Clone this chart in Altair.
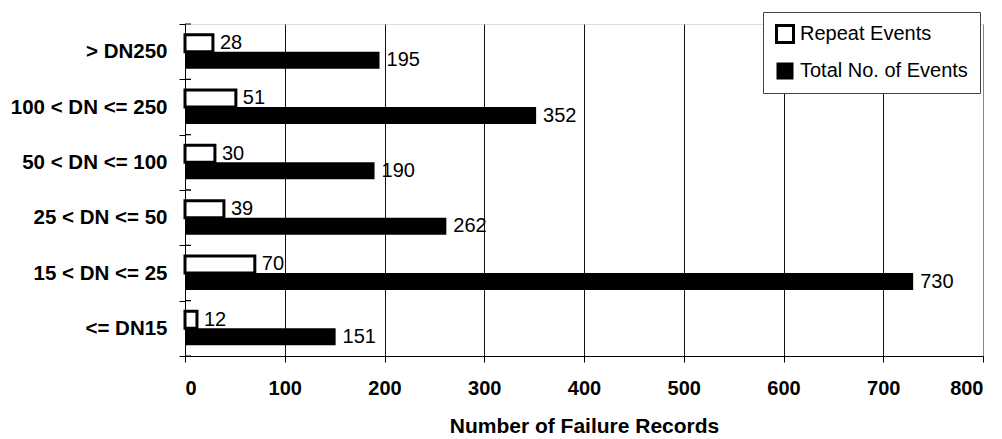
import altair as alt
import pandas as pd

categories = ["> DN250", "100 < DN <= 250", "50 < DN <= 100", "25 < DN <= 50", "15 < DN <= 25", "<= DN15"]
repeat_events = [28, 51, 30, 39, 70, 12]
total_events = [195, 352, 190, 262, 730, 151]
series_names = ["Repeat Events", "Total No. of Events"]
x_ticks = [0, 100, 200, 300, 400, 500, 600, 700, 800]

rows = []
for c, r, t in zip(categories, repeat_events, total_events):
    rows.append({"cat": c, "series": series_names[0], "value": r})
    rows.append({"cat": c, "series": series_names[1], "value": t})
df = pd.DataFrame(rows)
cat_df = pd.DataFrame({"cat": categories})

FONT = "Liberation Sans"

y_scale = alt.Scale(domain=categories, paddingInner=0, paddingOuter=0)
yoff_scale = alt.Scale(domain=series_names, paddingInner=0, paddingOuter=0.627)

y_enc = alt.Y("cat:N", scale=y_scale, sort=categories, title=None,
              axis=alt.Axis(labelFont=FONT, labelFontSize=20.5, labelFontWeight="bold",
                            labelColor="black", domainColor="black", tickColor="black",
                            tickSize=6, tickBand="extent", labelPadding=12, grid=False,
                            labelLimit=0))
x_enc = alt.X("value:Q", scale=alt.Scale(domain=[0, 800], nice=False),
              title="Number of Failure Records",
              axis=alt.Axis(values=x_ticks, labelFont=FONT, labelFontSize=20,
                            labelFontWeight="bold", labelColor="black",
                            titleFont=FONT, titleFontSize=21, titleFontWeight="bold",
                            titleColor="black", titlePadding=17, labelPadding=16,
                            domainColor="black", tickColor="black", tickSize=6,
                            grid=True,
                            gridColor={"condition": {"test": "datum.value === 800", "value": "#888888"}, "value": "#111111"},
                            gridWidth=1))

bars = alt.Chart(df).mark_bar(stroke="black").encode(
    x=x_enc,
    y=y_enc,
    yOffset=alt.YOffset("series:N", scale=yoff_scale, sort=series_names),
    fill=alt.Fill("series:N", scale=alt.Scale(domain=series_names, range=["white", "black"]),
                  legend=alt.Legend(title=None, orient="none", legendX=578, legendY=-12,
                                    labelFont=FONT, labelFontSize=20, labelColor="black",
                                    labelLimit=0,
                                    symbolType="square", symbolSize=289,
                                    symbolStrokeColor="black", symbolStrokeWidth=3,
                                    labelOffset=5, rowPadding=12, padding=12,
                                    fillColor="white", strokeColor="#444444")),
    strokeWidth=alt.StrokeWidth("series:N", scale=alt.Scale(domain=series_names, range=[3, 0]), legend=None),
)

labels = alt.Chart(df).mark_text(align="left", baseline="middle", dx=7, font=FONT,
                                 fontSize=20, color="black").encode(
    x=alt.X("value:Q"),
    y=alt.Y("cat:N", sort=categories),
    yOffset=alt.YOffset("series:N", scale=yoff_scale, sort=series_names),
    text=alt.Text("value:Q"),
)

ticks_in_top = alt.Chart(cat_df).mark_rule(color="black").encode(
    y=alt.Y("cat:N", sort=categories, bandPosition=0),
    x=alt.value(0), x2=alt.value(6),
)
ticks_in_bot = alt.Chart(cat_df).mark_rule(color="black").encode(
    y=alt.Y("cat:N", sort=categories, bandPosition=1),
    x=alt.value(0), x2=alt.value(6),
)

chart = alt.layer(bars, labels, ticks_in_top, ticks_in_bot).properties(
    width=798, height=332,
    autosize="none",
    padding={"left": 177, "top": 16, "right": 10, "bottom": 82},
).configure_view(stroke="#888888", strokeWidth=1).configure(background="white")

chart.save("out.html", embed_options={"renderer": "svg", "actions": False})
